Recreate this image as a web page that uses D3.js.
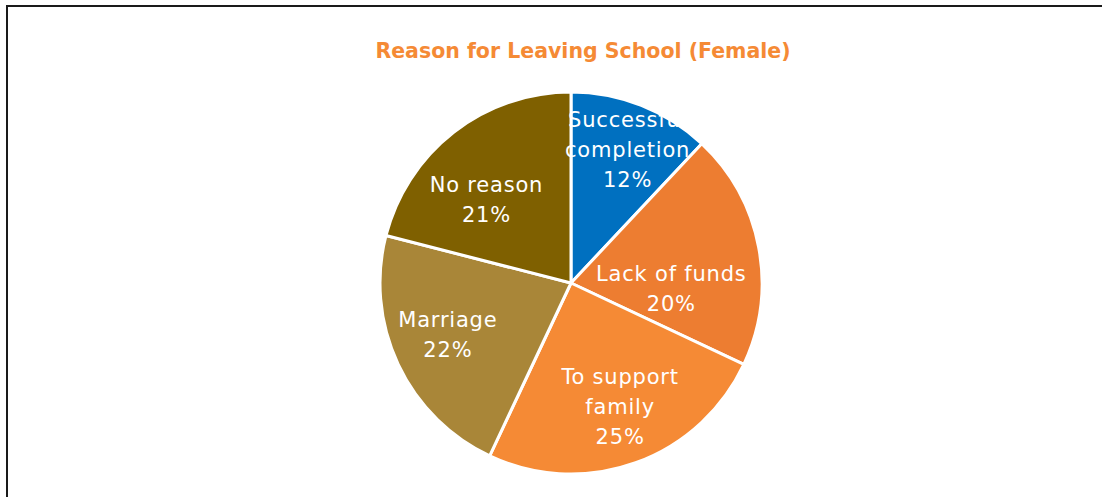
<!DOCTYPE html>
<html>
<head>
<meta charset="utf-8">
<script src="https://cdn.jsdelivr.net/npm/d3@7"></script>
<style>
  html, body { margin: 0; padding: 0; background: #fff; }
  svg { display: block; }
</style>
</head>
<body>
<svg id="chart" width="1102" height="497"></svg>
<script>
// Reasons for leaving school, female respondents (percent)
const categories = ["Successful completion", "Lack of funds", "To support family", "Marriage", "No reason"];
const values = [12, 20, 25, 22, 21];
// Label lines as shown inside each slice
const labelLines = [
  ["Successful", "completion"],
  ["Lack of funds"],
  ["To support", "family"],
  ["Marriage"],
  ["No reason"]
];
const colors = ["#0070C0", "#ED7D31", "#F58A35", "#A98638", "#7F6000"];
const title = "Reason for Leaving School (Female)";

// Layout
const width = 1102, height = 497;
const cx = 571, cy = 283, radius = 191;
const labelRadius = 0.62 * radius;
// nudges from the centroid so each label sits where it reads best
const labelNudge = [[13, -23], [-16, 28], [9, 13], [-16, 2], [-12, 11]];
const lineStep = 30;
const fontFamily = "'Century Gothic', 'URW Gothic', 'DejaVu Sans', sans-serif";

const svg = d3.select("#chart");

// outer frame (runs past the right and bottom edges)
svg.append("rect")
  .attr("x", 7).attr("y", 6)
  .attr("width", 1300).attr("height", 700)
  .attr("fill", "none")
  .attr("stroke", "#1a1a1a")
  .attr("stroke-width", 2);

svg.append("text")
  .attr("x", 583).attr("y", 58)
  .attr("text-anchor", "middle")
  .attr("font-family", fontFamily)
  .attr("font-weight", "bold")
  .attr("font-size", 20.5)
  .attr("fill", "#F58A35")
  .text(title);

const pie = d3.pie().sort(null).value(d => d.value);
const data = categories.map((c, i) => ({ name: c, value: values[i], lines: labelLines[i], color: colors[i], i }));
const arcs = pie(data);

const arc = d3.arc().innerRadius(0).outerRadius(radius);
const labelArc = d3.arc().innerRadius(labelRadius).outerRadius(labelRadius);

const g = svg.append("g").attr("transform", `translate(${cx},${cy})`);

g.selectAll("path.slice")
  .data(arcs)
  .join("path")
  .attr("class", "slice")
  .attr("d", arc)
  .attr("fill", d => d.data.color)
  .attr("stroke", "#fff")
  .attr("stroke-width", 3)
  .attr("stroke-linejoin", "round");

const labels = g.selectAll("text.lbl")
  .data(arcs)
  .join("text")
  .attr("class", "lbl")
  .attr("text-anchor", "middle")
  .attr("font-family", fontFamily)
  .attr("font-size", 21)
  .attr("letter-spacing", 0.8)
  .attr("fill", "#fff")
  .attr("transform", d => {
    const [x, y] = labelArc.centroid(d);
    const [nx, ny] = labelNudge[d.data.i];
    return `translate(${x + nx},${y + ny})`;
  });

labels.each(function(d) {
  const lines = d.data.lines.concat([d3.format(".0f")(d.data.value) + "%"]);
  const n = lines.length;
  const t = d3.select(this);
  lines.forEach((ln, k) => {
    t.append("tspan")
      .attr("x", 0)
      .attr("y", (k - (n - 1) / 2) * lineStep + 7)
      .text(ln);
  });
});
</script>
</body>
</html>
